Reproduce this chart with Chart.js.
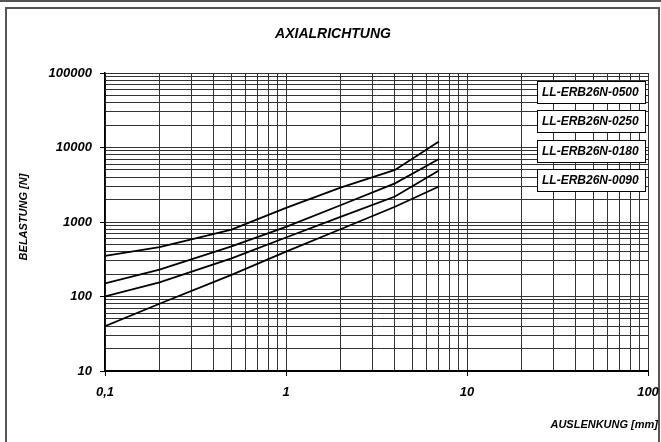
<!DOCTYPE html>
<html>
<head>
<meta charset="utf-8">
<title>Axialrichtung</title>
<script src="https://cdn.jsdelivr.net/npm/chart.js@4.4.1/dist/chart.umd.min.js"></script>
<style>
    html, body { margin: 0; padding: 0; background: #fff; }
    canvas { display: block; }
</style>
</head>
<body>
<canvas id="lineChart" width="661" height="442"></canvas>
<script>
// values
const displacement = [0.1, 0.2, 0.5, 1, 2, 4, 7]; // mm
const load0500 = [350, 460, 790, 1550, 2900, 5000, 12000];
const load0250 = [150, 230, 470, 860, 1680, 3300, 7000];
const load0180 = [100, 155, 325, 620, 1170, 2200, 4900];
const load0090 = [40, 80, 195, 400, 800, 1600, 3000];
const seriesLabels = ["LL-ERB26N-0500", "LL-ERB26N-0250", "LL-ERB26N-0180", "LL-ERB26N-0090"];

const xDecades = [0.1, 1, 10, 100];
const xTickLabels = ["0,1", "1", "10", "100"];
const yDecades = [10, 100, 1000, 10000, 100000];
const yTickLabels = ["10", "100", "1000", "10000", "100000"];

const chartTitle = "AXIALRICHTUNG";
const xTitle = "AUSLENKUNG [mm]";
const yTitle = "BELASTUNG [N]";

const FONT = "'Liberation Sans', Arial, sans-serif";

// 1..9 steps in each decade, decades flagged as major
function logTicks(decades) {
    let ticks = [];
    for (let i = 0; i < decades.length; i++) {
        const d = decades[i];
        if (i === decades.length - 1) {
            ticks.push({value: d, major: true});
            break;
        }
        for (let s = 1; s <= 9; s++) {
            ticks.push({value: +(d * s).toPrecision(6), major: s === 1});
        }
    }
    return ticks;
}

function toPoints(ys) {
    return displacement.map((x, i) => ({x: x, y: ys[i]}));
}

// title, axis titles, frame and the label boxes
const decorPlugin = {
    id: "decor",
    beforeDraw(chart) {
        const ctx = chart.ctx;
        ctx.save();
        ctx.fillStyle = "#fff";
        ctx.fillRect(0, 0, chart.width, chart.height);
        // dark band on top and grey frame
        ctx.fillStyle = "#555";
        ctx.fillRect(0, 0, chart.width, 2);
        ctx.strokeStyle = "#555";
        ctx.lineWidth = 2;
        ctx.beginPath();
        ctx.moveTo(6, chart.height + 2);
        ctx.lineTo(6, 8);
        ctx.lineTo(659, 8);
        ctx.lineTo(659, chart.height + 2);
        ctx.stroke();
        ctx.restore();
    },
    afterDraw(chart) {
        const ctx = chart.ctx;
        ctx.save();
        ctx.fillStyle = "#000";
        ctx.textBaseline = "middle";

        ctx.font = "italic bold 14px " + FONT;
        ctx.textAlign = "center";
        ctx.fillText(chartTitle, 333, 34);

        ctx.font = "italic bold 11px " + FONT;
        ctx.textAlign = "right";
        ctx.fillText(xTitle, 658, 425);

        ctx.save();
        ctx.translate(24, 217);
        ctx.rotate(-Math.PI / 2);
        ctx.textAlign = "center";
        ctx.fillText(yTitle, 0, 0);
        ctx.restore();

        // label boxes
        const boxTops = [81, 110, 140, 169];
        ctx.font = "italic bold 12px " + FONT;
        ctx.textAlign = "left";
        ctx.lineWidth = 1;
        for (let i = 0; i < seriesLabels.length; i++) {
            const top = boxTops[i];
            ctx.fillStyle = "#fff";
            ctx.fillRect(537, top, 109, 23);
            ctx.strokeStyle = "#000";
            ctx.strokeRect(537.5, top + 0.5, 108, 22);
            ctx.fillStyle = "#000";
            ctx.fillText(seriesLabels[i], 542, top + 12);
        }
        ctx.restore();
    }
};

const lineStyle = {
    borderColor: "#000",
    backgroundColor: "#000",
    borderWidth: 1.8,
    pointRadius: 0,
    showLine: true,
    tension: 0,
};

const chart = new Chart(document.getElementById("lineChart"), {
    type: "scatter",
    data: {
        datasets: [
            {...lineStyle, label: seriesLabels[0], data: toPoints(load0500)},
            {...lineStyle, label: seriesLabels[1], data: toPoints(load0250)},
            {...lineStyle, label: seriesLabels[2], data: toPoints(load0180)},
            {...lineStyle, label: seriesLabels[3], data: toPoints(load0090)},
        ],
    },
    options: {
        responsive: false,
        animation: false,
        layout: {padding: {top: 73, right: 13, left: 0, bottom: 0}},
        plugins: {
            legend: {display: false},
            tooltip: {enabled: false},
        },
        scales: {
            x: {
                type: "logarithmic",
                min: 0.1,
                max: 100,
                afterBuildTicks: (axis) => { axis.ticks = logTicks(xDecades); },
                afterFit: (axis) => {
                    axis.height = 71;
                    axis.paddingRight = 0;
                    axis.paddingLeft = 0;
                },
                border: {color: "#000", width: 2},
                grid: {
                    color: "#333",
                    lineWidth: 1,
                    tickLength: 5,
                    tickColor: (c) => (c.tick && c.tick.major ? "#000" : "rgba(0,0,0,0)"),
                },
                ticks: {
                    autoSkip: false,
                    maxRotation: 0,
                    padding: 9,
                    color: "#000",
                    font: {family: FONT, size: 13, style: "italic", weight: "bold"},
                    callback: (v) => {
                        const k = xDecades.indexOf(v);
                        return k >= 0 ? xTickLabels[k] : "";
                    },
                },
            },
            y: {
                type: "logarithmic",
                min: 10,
                max: 100000,
                afterBuildTicks: (axis) => { axis.ticks = logTicks(yDecades); },
                afterFit: (axis) => { axis.width = 105; },
                border: {color: "#000", width: 1.5},
                grid: {
                    color: "#333",
                    lineWidth: 1,
                    tickLength: 5,
                    tickColor: (c) => (c.tick && c.tick.major ? "#000" : "rgba(0,0,0,0)"),
                },
                ticks: {
                    autoSkip: false,
                    padding: 8,
                    color: "#000",
                    font: {family: FONT, size: 13, style: "italic", weight: "bold"},
                    callback: (v) => {
                        const k = yDecades.indexOf(v);
                        return k >= 0 ? yTickLabels[k] : "";
                    },
                },
            },
        },
    },
    plugins: [decorPlugin],
});
</script>
</body>
</html>
